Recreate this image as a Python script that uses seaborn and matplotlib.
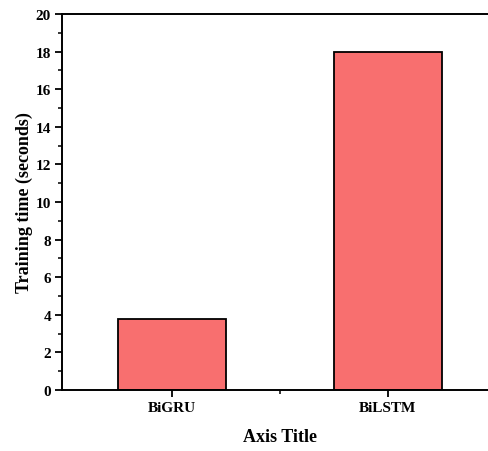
import numpy as np
import pandas as pd
import matplotlib
matplotlib.use('Agg')
import matplotlib.pyplot as plt
import seaborn as sns
from matplotlib.ticker import MultipleLocator, FixedLocator

models = ['BiGRU', 'BiLSTM']
train_time = [3.8, 18.0]

df = pd.DataFrame({'model': models, 'time': train_time})

sns.set_style('ticks')
plt.rcParams['font.family'] = ['Liberation Serif', 'DejaVu Serif']
plt.rcParams['font.weight'] = 'bold'
plt.rcParams['text.color'] = 'black'
plt.rcParams['axes.labelcolor'] = 'black'
plt.rcParams['xtick.color'] = 'black'
plt.rcParams['ytick.color'] = 'black'

fig = plt.figure(figsize=(4.89, 4.52), dpi=100)
ax = fig.add_axes([0.1268, 0.135, 0.891, 0.832])

sns.barplot(data=df, x='model', y='time', color='#F86F6F', saturation=1,
            width=0.5, edgecolor='black', linewidth=1.3, ax=ax)

ax.set_xlim(-0.51, 1.51)
ax.set_ylim(0, 20)
ax.yaxis.set_major_locator(MultipleLocator(2))
ax.yaxis.set_minor_locator(MultipleLocator(1))
ax.xaxis.set_minor_locator(FixedLocator([0.5]))

for s in ax.spines.values():
    s.set_linewidth(1.4)
    s.set_color('black')

ax.tick_params(axis='both', which='major', direction='out', length=5, width=1.3,
               labelsize=11, pad=3, colors='black')
ax.tick_params(axis='both', which='minor', direction='out', length=3, width=1.1,
               colors='black')
for lab in ax.get_xticklabels() + ax.get_yticklabels():
    lab.set_fontweight('bold')

ax.set_xlabel('Axis Title', fontsize=13, fontweight='bold', labelpad=10, color='black')
ax.set_ylabel('Training time (seconds)', fontsize=13, fontweight='bold', labelpad=2,
              color='black')

fig.savefig('out.png', dpi=100)
